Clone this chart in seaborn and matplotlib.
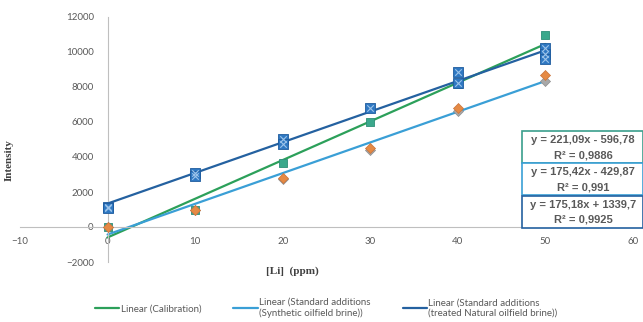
import numpy as np
import pandas as pd
import matplotlib
matplotlib.use("Agg")
import matplotlib.pyplot as plt
import seaborn as sns
from matplotlib.lines import Line2D
from matplotlib.patches import Rectangle

sns.set_theme(style="white")
plt.rcParams["font.family"] = ["Lato", "DejaVu Sans"]

# Lithium concentration levels (ppm)
conc = [0, 10, 20, 30, 40, 50]

# Calibration standards
calib_y = [0, 1000, 3650, 6000, 8200, 10950]

# Standard additions, synthetic oilfield brine (two replicates)
synth_y1 = [0, 1000, 2800, 4500, 6800, 8700]
synth_y2 = [0, 950, 2750, 4400, 6600, 8350]

# Standard additions, treated natural oilfield brine (replicates)
nat_x = [0, 0, 10, 10, 20, 20, 30, 40, 40, 50, 50, 50]
nat_y = [1150, 1100, 3100, 2900, 5050, 4750, 6800, 8850, 8230, 10200, 9900, 9600]

# Linear trendline coefficients: slope, intercept, R²
fit_slope = [221.09, 175.42, 175.18]
fit_icpt = [-596.78, -429.87, 1339.7]
fit_r2 = ["0,9886", "0,991", "0,9925"]
fit_names = ["Linear (Calibration)",
             "Linear (Standard additions\n(Synthetic oilfield brine))",
             "Linear (Standard additions\n(treated Natural oilfield brine))"]
fit_colors = ["#2CA05A", "#3A9FD6", "#2461A0"]
box_edges = ["#3A9E8C", "#3A9FD6", "#2461A0"]

fig = plt.figure(figsize=(6.43, 3.22), dpi=100)
ax = fig.add_axes([20 / 643, 1 - 262 / 322, 613 / 643, 245 / 322])

# trendlines from the fitted coefficients
xx = np.array([0, 50])
for s, b, c in zip(fit_slope, fit_icpt, fit_colors):
    sns.lineplot(x=xx, y=s * xx + b, color=c, lw=1.6, ax=ax, zorder=2)

# measured points
sns.scatterplot(x=conc, y=calib_y, marker="s", s=36, color="#3BA88C",
                edgecolor="#2E8E78", linewidth=0.6, ax=ax, zorder=3)
sns.scatterplot(x=conc, y=synth_y2, marker="D", s=26, color="#A8A8A8",
                edgecolor="#8E8E8E", linewidth=0.5, ax=ax, zorder=4)
sns.scatterplot(x=conc, y=synth_y1, marker="D", s=26, color="#E58A45",
                edgecolor="#C9733A", linewidth=0.5, ax=ax, zorder=5)
sns.scatterplot(x=nat_x, y=nat_y, marker="s", s=42, color="#2F78C2",
                edgecolor="#1F5C9E", linewidth=0.6, ax=ax, zorder=6)
sns.scatterplot(x=nat_x, y=nat_y, marker="x", s=22, color="#9CC4EA",
                linewidth=0.8, ax=ax, zorder=7)

ax.set_xlim(-10, 60)
ax.set_ylim(-2000, 12000)
ax.set_xticks(np.arange(-10, 61, 10))
ax.set_yticks(np.arange(-2000, 12001, 2000))

# axes cross at the origin
for side in ["top", "right"]:
    ax.spines[side].set_visible(False)
ax.spines["left"].set_position(("data", 0))
ax.spines["bottom"].set_position(("data", 0))
for side in ["left", "bottom"]:
    ax.spines[side].set_color("#BFBFBF")
    ax.spines[side].set_linewidth(0.8)
ax.tick_params(axis="both", length=0, labelsize=7, colors="#595959", pad=4)
ax.tick_params(axis="x", pad=7)
ax.tick_params(axis="y", pad=10)

fig.text(292 / 643, 1 - 271 / 322, "[Li]  (ppm)", ha="center", va="center",
         fontsize=8, fontweight="bold", family="Liberation Serif", color="#404040")
fig.text(9 / 643, 1 - 160 / 322, "Intensity", ha="center", va="center",
         rotation=90, fontsize=8, fontweight="bold", family="Liberation Serif",
         color="#404040")

# equation boxes
box_top = [131, 163, 196]
for i in range(3):
    top = box_top[i]
    h = 32
    fig.patches.append(Rectangle((522 / 643, 1 - (top + h) / 322), 121 / 643, h / 322,
                                 transform=fig.transFigure, facecolor="white",
                                 edgecolor=box_edges[i], linewidth=1.2, zorder=10))
    sign = "-" if fit_icpt[i] < 0 else "+"
    txt = f"y = {fit_slope[i]:.2f}x {sign} {abs(fit_icpt[i]):g}".replace(".", ",")
    fig.text(583 / 643, 1 - (top + 9) / 322, txt, ha="center", va="center",
             fontsize=8, fontweight="bold", family="Liberation Sans",
             color="#595959", zorder=11)
    fig.text(583 / 643, 1 - (top + 24) / 322, f"R² = {fit_r2[i]}", ha="center",
             va="center", fontsize=8, fontweight="bold", family="Liberation Sans",
             color="#595959", zorder=11)

handles = [Line2D([0], [0], color=c, lw=1.6) for c in fit_colors]
fig.legend(handles, fit_names, loc="upper left", bbox_to_anchor=(87 / 643, 1 - 290 / 322),
           ncol=3, frameon=False, fontsize=7, handlelength=2.5, handletextpad=0.15,
           columnspacing=3.3, labelcolor="#595959", borderpad=0.3, labelspacing=0.2)

fig.savefig("out.png", dpi=100)
